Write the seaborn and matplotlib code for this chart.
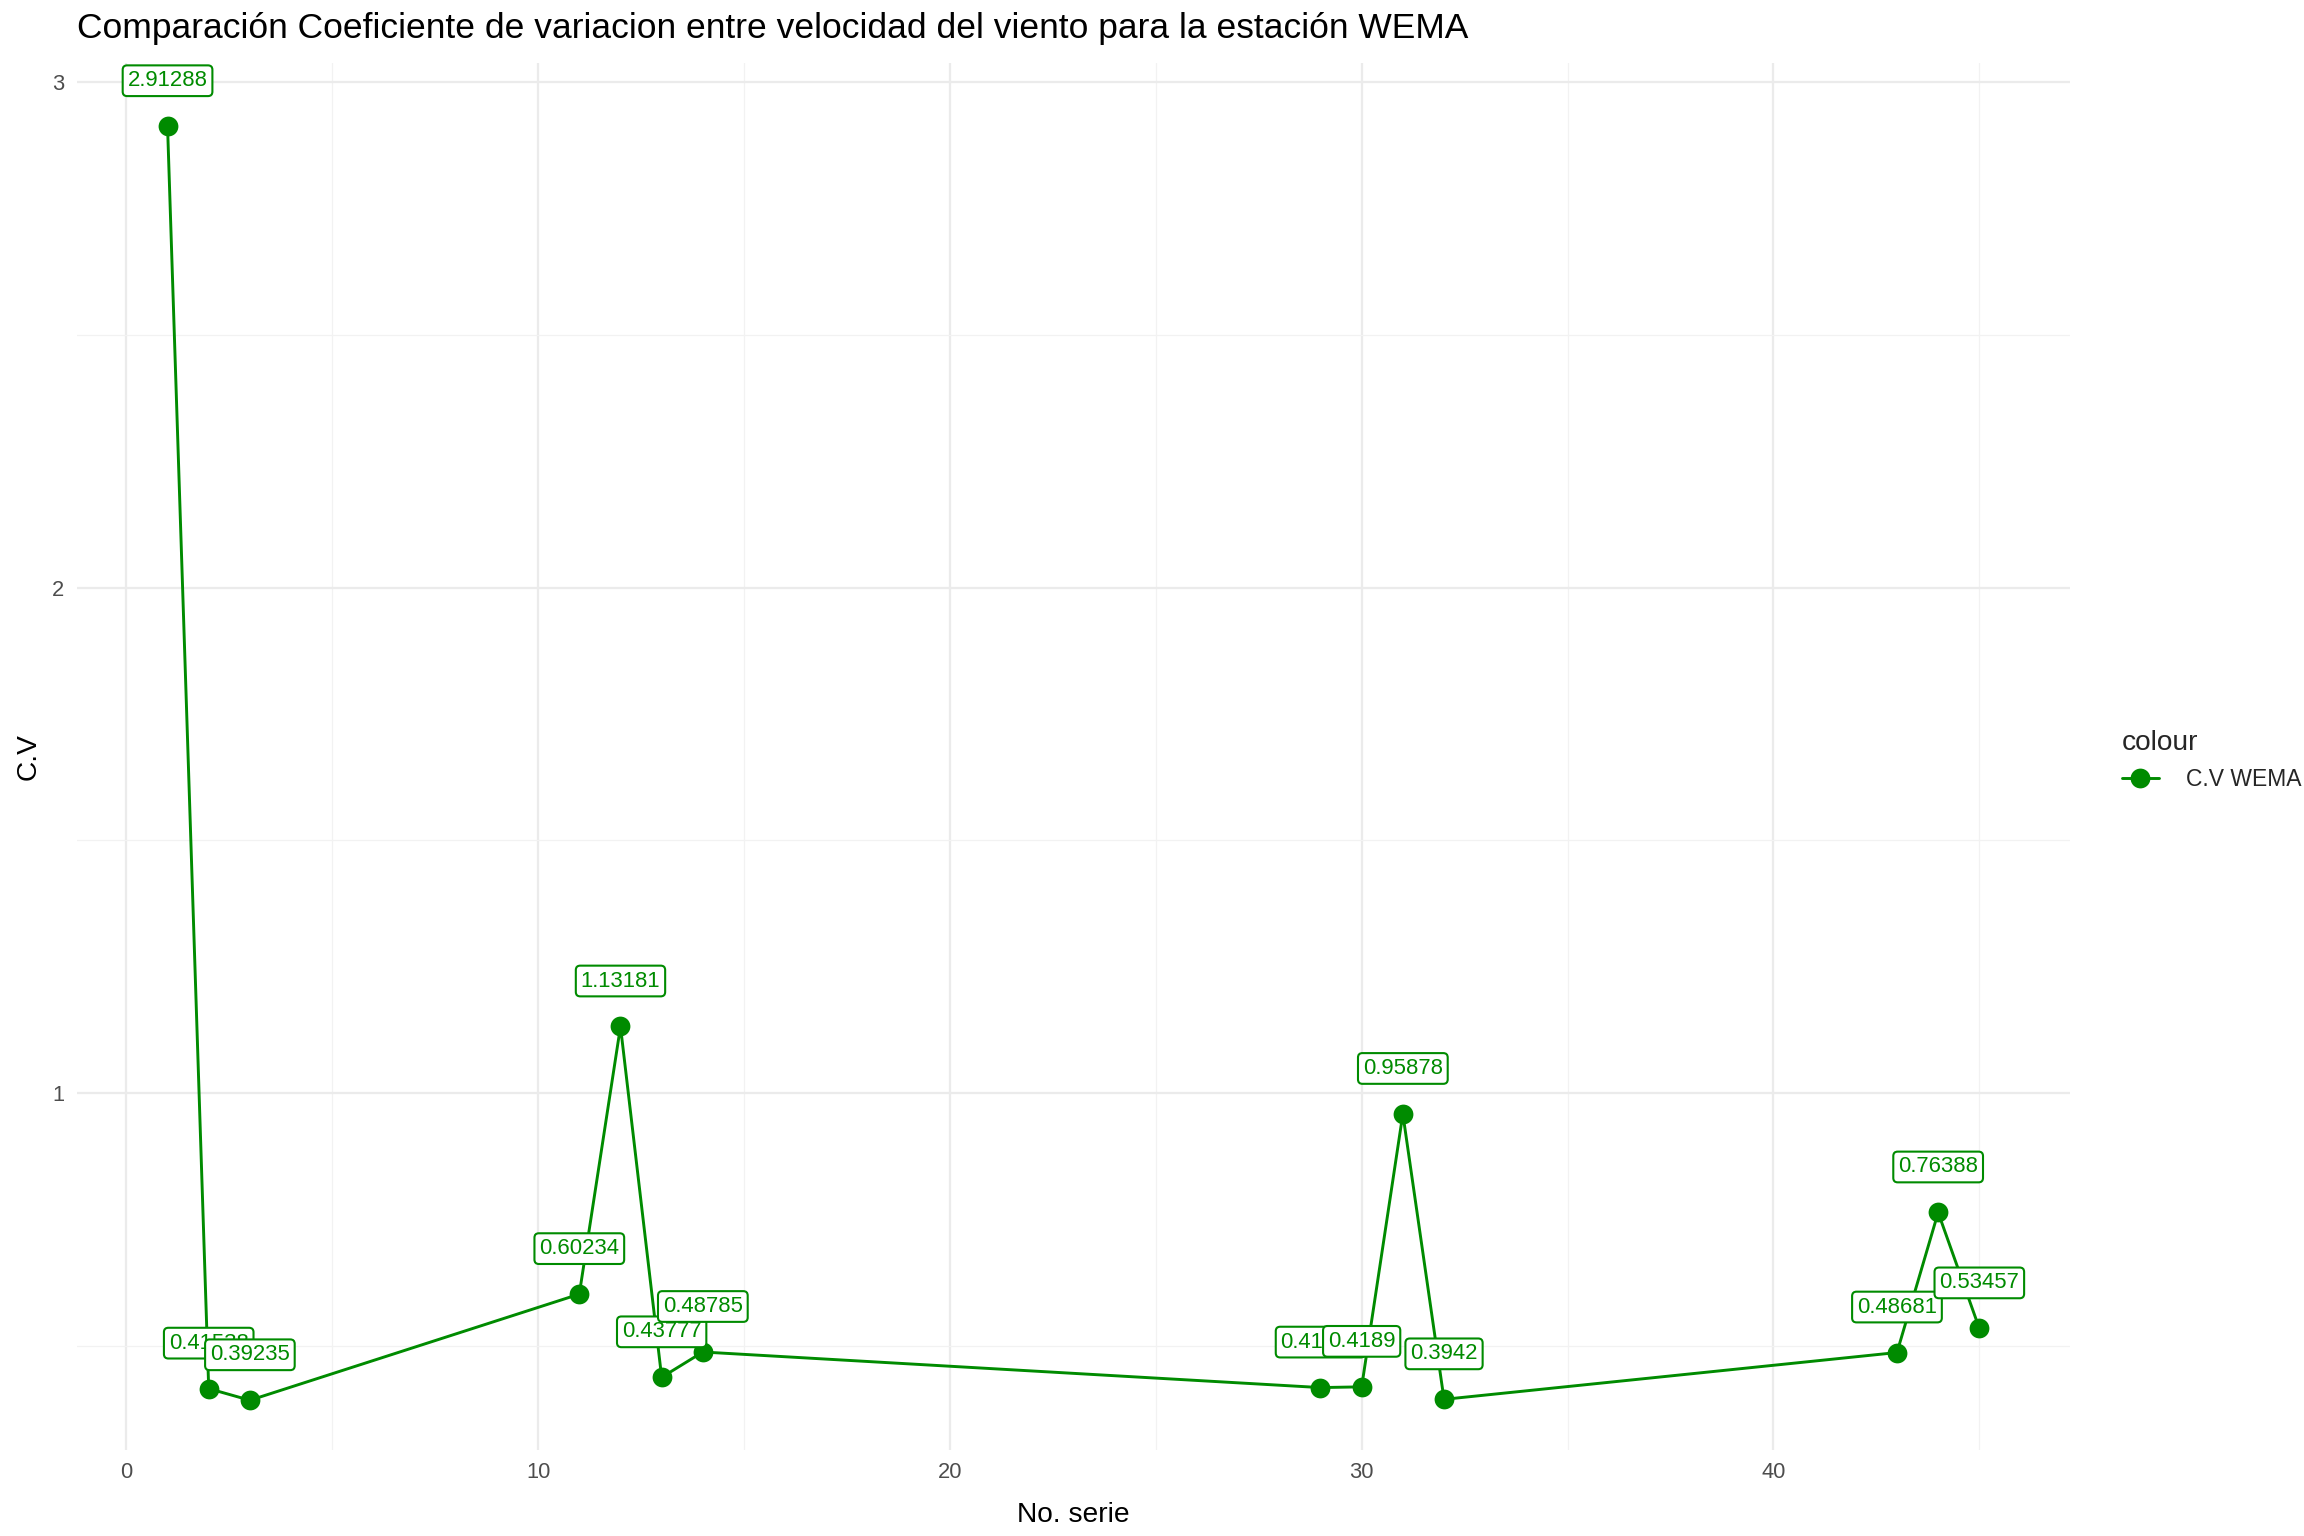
import numpy as np
import pandas as pd
import seaborn as sns
import matplotlib.pyplot as plt
from matplotlib.ticker import MultipleLocator
from matplotlib.lines import Line2D

# values
serie = [1, 2, 3, 11, 12, 13, 14, 29, 30, 31, 32, 43, 44, 45]
cv_wema = [2.91288, 0.41538, 0.39235, 0.60234, 1.13181, 0.43777, 0.48785,
           0.41745, 0.4189, 0.95878, 0.3942, 0.48681, 0.76388, 0.53457]
x_ticks = [0, 10, 20, 30, 40]
y_ticks = [1, 2, 3]

GREEN = '#008B00'
LABEL_NUDGE = 0.09

df = pd.DataFrame({'serie': serie, 'cv': cv_wema})

sns.set_theme(style='white')
plt.rcParams['font.family'] = ['Liberation Sans', 'DejaVu Sans']

fig = plt.figure(figsize=(15.36, 10.24), dpi=150)
ax = fig.add_axes([0.0334, 0.056, 0.865, 0.903])

sns.lineplot(data=df, x='serie', y='cv', ax=ax, color=GREEN, linewidth=1.4,
             marker='o', markersize=9.5, markeredgewidth=0, zorder=3)

# labels sit a bit above each point, like geom_label with nudge_y
for xv, yv in zip(df['serie'], df['cv']):
    ax.text(xv, yv + LABEL_NUDGE, str(yv), ha='center', va='center',
            fontsize=10.6, color=GREEN, zorder=4,
            bbox=dict(boxstyle='round,pad=0.22,rounding_size=0.2',
                      fc='white', ec=GREEN, lw=1.0))

ax.set_xlim(-1.2, 47.2)
ax.set_ylim(0.294, 3.038)
ax.set_xticks(x_ticks)
ax.set_yticks(y_ticks)
ax.xaxis.set_minor_locator(MultipleLocator(5))
ax.yaxis.set_minor_locator(MultipleLocator(0.5))
ax.grid(which='major', color='#EBEBEB', linewidth=1.1)
ax.grid(which='minor', color='#F2F2F2', linewidth=0.6)
ax.set_axisbelow(True)
for s in ax.spines.values():
    s.set_visible(False)
ax.tick_params(axis='both', which='both', length=0, labelsize=10.5,
               labelcolor='#4D4D4D', pad=6)

ax.set_xlabel('No. serie', fontsize=13.5, color='black', labelpad=9)
ax.set_ylabel('C.V', fontsize=13.5, color='black', labelpad=5)
ax.set_title('Comparación Coeficiente de variacion entre velocidad del viento para la estación WEMA',
             fontsize=17, loc='left', color='black', pad=12)

handle = Line2D([], [], color=GREEN, linewidth=1.4, marker='o', markersize=9.5,
                markeredgewidth=0)
leg = fig.legend([handle], ['C.V WEMA'], title='colour', loc='center left',
                 bbox_to_anchor=(0.912, 0.505), frameon=False, fontsize=11,
                 title_fontsize=13.5, handlelength=1.6, handletextpad=1.2)
leg._legend_box.align = 'left'

fig.savefig('out.png', dpi=150)
